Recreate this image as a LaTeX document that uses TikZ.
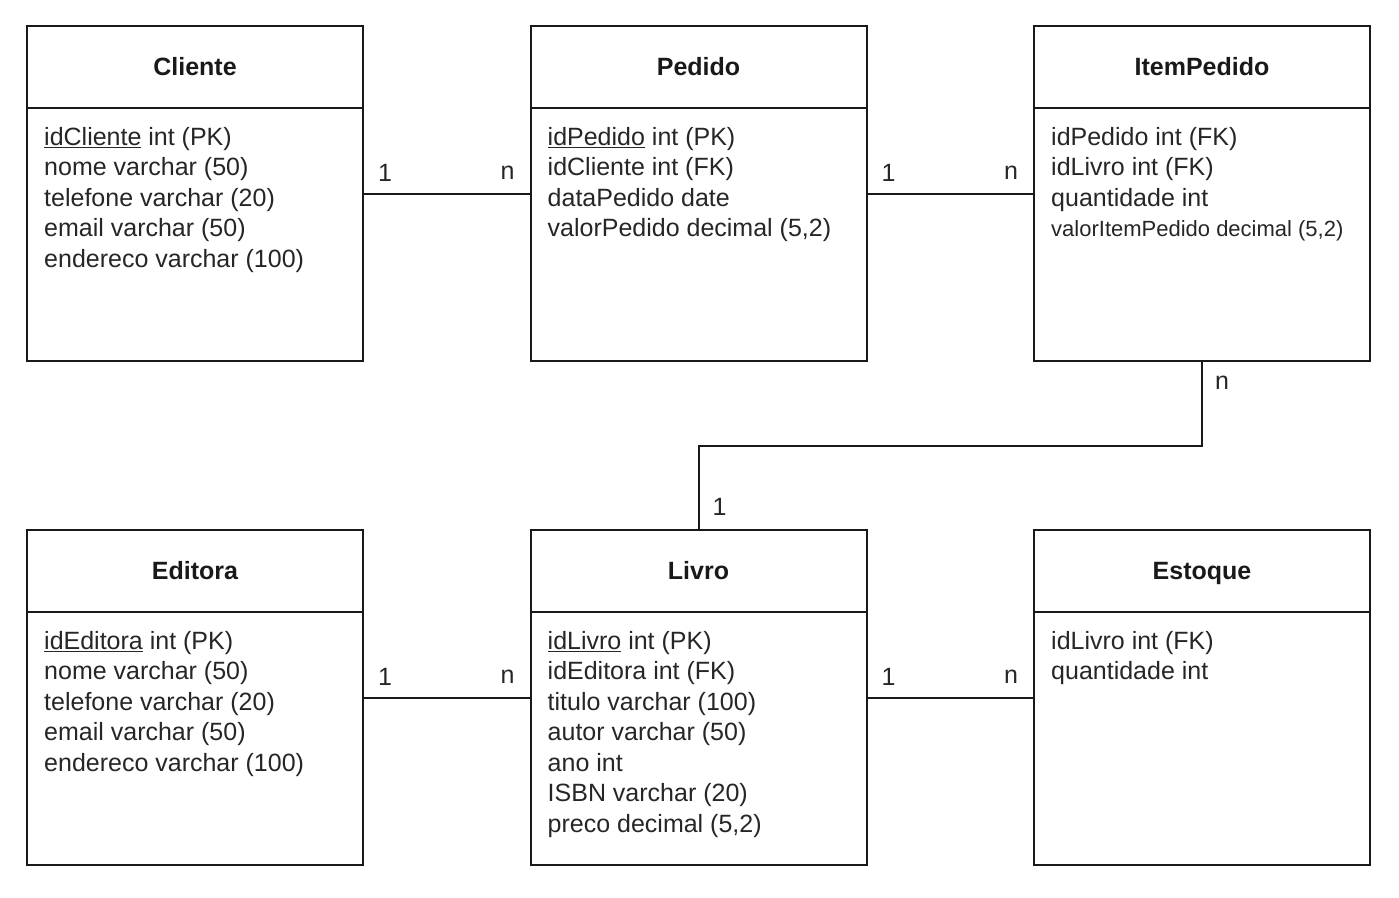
\documentclass[tikz,border=0pt]{standalone}
\usepackage{fontspec}
\setmainfont{Liberation Sans}
\begin{document}
\begin{tikzpicture}[x=1pt,y=-1pt,
  entity/.style={draw=black!90, line width=2pt, minimum width=336pt, minimum height=335pt, inner sep=0pt},
  divider/.style={draw=black!90, line width=2pt},
  title/.style={font=\fontsize{25}{30}\selectfont\bfseries, text=black!90, inner sep=0pt, anchor=base},
  fields/.style={font=\fontsize{25}{30.5}\selectfont, text=black!85, align=left, anchor=north west, inner sep=0pt},
  link/.style={draw=black!90, line width=2pt},
  mult/.style={font=\fontsize{25}{30}\selectfont, text=black!85, inner sep=0pt}]
\useasboundingbox (0,0) rectangle (1399,897);

% entity boxes
\node[entity] (cliente) at (195,193.5) {};
\node[entity] (pedido)  at (698.5,193.5) {};
\node[entity] (item)    at (1202,193.5) {};
\node[entity] (editora) at (195,697.5) {};
\node[entity] (livro)   at (698.5,697.5) {};
\node[entity] (estoque) at (1202,697.5) {};

% header dividers
\foreach \e in {cliente,pedido,item,editora,livro,estoque}
  \draw[divider] ([yshift=-83pt]\e.north west) -- ([yshift=-83pt]\e.north east);

% titles, placed on a common baseline
\node[title] (cliente-t) at ([yshift=-50pt]cliente.north) {Cliente};
\node[title] (pedido-t)  at ([yshift=-50pt]pedido.north) {Pedido};
\node[title] (item-t)    at ([yshift=-50pt]item.north) {ItemPedido};
\node[title] (editora-t) at ([yshift=-50pt]editora.north) {Editora};
\node[title] (livro-t)   at ([yshift=-50pt]livro.north) {Livro};
\node[title] (estoque-t) at ([yshift=-50pt]estoque.north) {Estoque};

% attributes
\node[fields] (cliente-f) at ([xshift=18pt,yshift=-102pt]cliente.north west)
  {\underline{idCliente} int (PK)\\nome varchar (50)\\telefone varchar (20)\\email varchar (50)\\endereco varchar (100)};
\node[fields] (pedido-f) at ([xshift=18pt,yshift=-102pt]pedido.north west)
  {\underline{idPedido} int (PK)\\idCliente int (FK)\\dataPedido date\\valorPedido decimal (5,2)};
\node[fields] (item-f) at ([xshift=18pt,yshift=-102pt]item.north west)
  {idPedido int (FK)\\idLivro int (FK)\\quantidade int\\{\fontsize{22}{30.5}\selectfont valorItemPedido decimal (5,2)}};
\node[fields] (editora-f) at ([xshift=18pt,yshift=-102pt]editora.north west)
  {\underline{idEditora} int (PK)\\nome varchar (50)\\telefone varchar (20)\\email varchar (50)\\endereco varchar (100)};
\node[fields] (livro-f) at ([xshift=18pt,yshift=-102pt]livro.north west)
  {\underline{idLivro} int (PK)\\idEditora int (FK)\\titulo varchar (100)\\autor varchar (50)\\ano int\\ISBN varchar (20)\\preco decimal (5,2)};
\node[fields] (estoque-f) at ([xshift=18pt,yshift=-102pt]estoque.north west)
  {idLivro int (FK)\\quantidade int};

% relationships
\draw[link] (cliente.east) -- (pedido.west);
\node[mult] (m1a) at ([xshift=21pt,yshift=21pt]cliente.east) {1};
\node[mult] (m1b) at ([xshift=-22pt,yshift=21pt]pedido.west) {n};

\draw[link] (pedido.east) -- (item.west);
\node[mult] (m2a) at ([xshift=21pt,yshift=21pt]pedido.east) {1};
\node[mult] (m2b) at ([xshift=-22pt,yshift=21pt]item.west) {n};

\draw[link] (item.south) -- ++(0,84) -| (livro.north);
\node[mult] (m3a) at ([xshift=20pt,yshift=-21pt]item.south) {n};
\node[mult] (m3b) at ([xshift=21pt,yshift=22pt]livro.north) {1};

\draw[link] (editora.east) -- (livro.west);
\node[mult] (m4a) at ([xshift=21pt,yshift=21pt]editora.east) {1};
\node[mult] (m4b) at ([xshift=-22pt,yshift=21pt]livro.west) {n};

\draw[link] (livro.east) -- (estoque.west);
\node[mult] (m5a) at ([xshift=21pt,yshift=21pt]livro.east) {1};
\node[mult] (m5b) at ([xshift=-22pt,yshift=21pt]estoque.west) {n};
\end{tikzpicture}
\end{document}
